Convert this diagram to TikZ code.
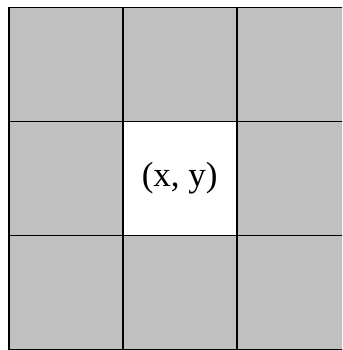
\documentclass[tikz,border=0pt]{standalone}
\usepackage{fontspec}
\setmainfont{Liberation Serif}
\definecolor{cellgray}{RGB}{192,192,192}

\begin{document}
\begin{tikzpicture}[
    x=1pt, y=-1pt,
    cell/.style={draw, line width=1.6pt, fill=cellgray, minimum size=114pt, inner sep=0pt, outer sep=0pt, anchor=north west},
    ctr/.style={cell, fill=white, font=\fontsize{35}{40}\selectfont}
]
\useasboundingbox (0,0) rectangle (342,350);
\clip (0,0) rectangle (342,350);
\foreach \i in {0,1,2}
  \foreach \j in {0,1,2}
    \node[cell] (c\i\j) at (8.7+114*\i, 7.5+114*\j) {};
\node[ctr] (mid) at (122.7,121.5) {(x, y)};
\end{tikzpicture}
\end{document}
